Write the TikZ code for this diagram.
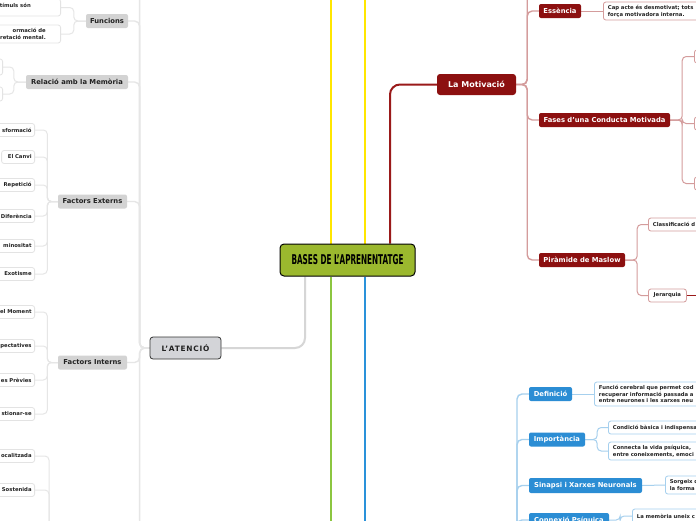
\documentclass[tikz,border=0pt]{standalone}
\usepackage{fontspec}
\setmainfont{DejaVu Sans}
\newfontfamily\spacedfont{DejaVu Sans}[LetterSpace=10]
\usetikzlibrary{backgrounds}
\definecolor{cfill}{HTML}{9BB82E}
\definecolor{rfill}{HTML}{8C1010}
\definecolor{bfill}{HTML}{2B8DD4}
\definecolor{gfill}{HTML}{D3D3D3}
\definecolor{afill}{HTML}{D3D4D8}
\definecolor{yelc}{HTML}{FFE600}
\definecolor{grnc}{HTML}{8CC640}
\definecolor{bluc}{HTML}{2A92DA}
\definecolor{redc}{HTML}{9A1A1A}
\definecolor{graymc}{HTML}{D6D6D6}
\definecolor{gbusc}{HTML}{E6E6E6}
\definecolor{rbusc}{HTML}{D49C9C}
\definecolor{bbusc}{HTML}{A6D0EE}
\definecolor{gleafc}{HTML}{E3E3E3}
\definecolor{txt}{HTML}{222222}
\begin{document}
\begin{tikzpicture}[x=1pt,y=-1pt,
  central/.style={draw=black, line width=1pt, fill=cfill, rounded corners=4pt, minimum width=135pt, minimum height=32pt, inner sep=0pt},
  motnode/.style={rounded corners=3pt, fill=rfill, text=white, font=\bfseries\fontsize{8}{9}\selectfont, minimum width=79pt, minimum height=21pt, inner sep=0pt},
  atnode/.style={draw=black!80, line width=0.8pt, fill=afill, rounded corners=3pt, minimum width=71pt, minimum height=22pt, inner sep=0pt, font=\fontsize{7.4}{8}\selectfont, text=txt},
  lvl2/.style={rounded corners=2pt, inner sep=0pt, font=\bfseries\fontsize{6.8}{8}\selectfont, minimum height=14pt},
  gnode/.style={lvl2, fill=gfill, text=txt},
  rnode/.style={lvl2, fill=rfill, text=white},
  bnode/.style={lvl2, fill=bfill, text=white},
  leaf/.style={rounded corners=2.5pt, fill=white, inner xsep=4.5pt, inner ysep=0pt, font=\bfseries\fontsize{5.3}{6.9}\selectfont, text=txt, line width=0.8pt},
  gleaf/.style={leaf, draw=gleafc, align=right, inner xsep=3pt, anchor=east, minimum height=13pt},
  rleaf/.style={leaf, draw=rbusc, align=left, anchor=west, minimum height=13pt},
  bleaf/.style={leaf, draw=bbusc, align=left, anchor=west, minimum height=13pt},
  leaftext/.style={inner sep=0pt, font=\bfseries\fontsize{5.3}{7.5}\selectfont, text=txt},
  yel/.style={draw=yelc, line width=2pt},
  grn/.style={draw=grnc, line width=2pt},
  blu/.style={draw=bluc, line width=2pt},
  redm/.style={draw=redc, line width=2pt, rounded corners=10pt},
  graym/.style={draw=graymc, line width=2pt, rounded corners=10pt},
  gbus/.style={draw=gbusc, line width=1.4pt, rounded corners=5pt},
  gleafline/.style={draw=gbusc, line width=1pt, rounded corners=4pt},
  rbus/.style={draw=rbusc, line width=1.4pt, rounded corners=5pt},
  rleafline/.style={draw=rbusc, line width=1pt, rounded corners=4pt},
  jerline/.style={draw=redc, line width=1.6pt},
  bbus/.style={draw=bbusc, line width=1.4pt, rounded corners=5pt},
  bleafline/.style={draw=bbusc, line width=1pt, rounded corners=4pt}
]
\useasboundingbox (0,0) rectangle (696,520);
\clip (0,0) rectangle (696,520);

% helper coordinates
\coordinate (y1) at (331,-10);
\coordinate (y2) at (365,-10);
\coordinate (g1) at (331,530);
\coordinate (b1) at (365,530);
\coordinate (r1) at (390,0);
\coordinate (a1) at (305,0);
\coordinate (gtop) at (128,-20);
\coordinate (gbot) at (128,545);
\coordinate (fbot) at (59,545);
\coordinate (mtop) at (539,-20);
\coordinate (jerout) at (712,295.5);
\coordinate (memb) at (517,545);

% main nodes
\node[central] (central) at (347.5,260) {\resizebox{112pt}{10pt}{\bfseries BASES DE L’APRENENTATGE}};
\node[motnode] (motiv) at (476.5,84.5) {La Motivació};
\node[atnode] (atencio) at (185.5,348) {{\spacedfont\bfseries L’ATENCIÓ}};

% gray level 2
\node[gnode, minimum width=42pt] (funcions) at (107,21) {Funcions};
\node[gnode, minimum width=102pt] (relacio) at (77,82) {Relació amb la Memòria};
\node[gnode, minimum width=69pt] (fext) at (92.5,201.5) {Factors Externs};
\node[gnode, minimum width=69pt] (fint) at (92.5,362.5) {Factors Interns};

% red level 2
\node[rnode, minimum width=42pt] (essencia) at (560,11) {Essència};
\node[rnode, minimum width=131pt] (fases) at (604.5,120) {Fases d’una Conducta Motivada};
\node[rnode, minimum width=86pt] (piramide) at (582,260) {Piràmide de Maslow};

% blue level 2
\node[bnode, minimum width=43pt] (definicio) at (550.5,394) {Definició};
\node[bnode, minimum width=56pt] (importancia) at (557,439.5) {Importància};
\node[bnode, minimum width=113pt, minimum height=15pt] (sinapsi) at (585.5,485.5) {Sinapsi i Xarxes Neuronals};
\node[bnode, minimum width=80pt] (connexio) at (569,520) {Connexió Psíquica};

% gray leaves
\node[gleaf, minimum height=17pt, minimum width=90pt] (fu1) at (61,7.5) {};
\node[leaftext, anchor=east] (fu1t) at (31,5) {tímuls són};
\node[gleaf, minimum height=18pt, minimum width=90pt] (fu2) at (61,34) {};
\node[leaftext, anchor=east, align=right] (fu2t) at (46,34) {ormació de\\retació mental.};
\node[gleaf, minimum height=16pt, minimum width=40pt] (re1) at (3,67) {};
\node[gleaf, minimum height=14pt, minimum width=40pt] (re2) at (3,94) {};

\node[gleaf, text width=60pt] (fe1) at (35,130) {sformació};
\node[gleaf, text width=27pt] (fe2) at (35,157) {El Canvi};
\node[gleaf, text width=60pt] (fe3) at (35,185) {Repetició};
\node[gleaf, text width=60pt] (fe4) at (35,216) {Diferència};
\node[gleaf, text width=60pt] (fe5) at (35,246) {minositat};
\node[gleaf, text width=60pt] (fe6) at (35,274) {Exotisme};

\node[gleaf, text width=60pt] (fi1) at (35,312) {el Moment};
\node[gleaf, text width=60pt] (fi2) at (35,346) {pectatives};
\node[gleaf, text width=60pt] (fi3) at (35,380) {es Prèvies};
\node[gleaf, text width=60pt] (fi4) at (35,414) {stionar-se};

\node[gleaf, text width=60pt] (fb1) at (35,456) {ocalitzada};
\node[gleaf, text width=60pt] (fb2) at (35,490) {Sostenida};

% red leaves
\node[rleaf, text width=140pt, minimum height=18pt] (ess1) at (603,11) {Cap acte és desmotivat; tots\\força motivadora interna.};
\node[rleaf, minimum width=40pt] (fa1) at (694,56.5) {};
\node[rleaf, minimum width=40pt] (fa2) at (694,123.5) {};
\node[rleaf, minimum width=40pt] (fa3) at (694,183.5) {};
\node[rleaf, text width=80pt] (cla) at (648,224.5) {Classificació d};
\node[rleaf, text width=29pt, align=center] (jer) at (648,295.5) {Jerarquia};

% blue leaves
\node[bleaf, text width=130pt, minimum height=24pt] (def1) at (594,394) {Funció cerebral que permet cod\\recuperar informació passada a\\entre neurones i les xarxes neu};
\node[bleaf, text width=100pt] (imp1) at (608,427.5) {Condició bàsica i indispensa};
\node[bleaf, text width=100pt, minimum height=18pt] (imp2) at (608,451) {Connecta la vida psíquica,\\entre coneixements, emoci};
\node[bleaf, text width=60pt, minimum height=18pt] (sin1) at (665,485) {Sorgeix d\\la forma};
\node[bleaf, text width=80pt, minimum height=14pt] (con1) at (632,516) {La memòria uneix c};

\begin{pgfonlayer}{background}
\fill[white] (0,0) rectangle (696,520);
% main branches
\draw[yel] (central.north -| y1) -- (y1);
\draw[yel] (central.north -| y2) -- (y2);
\draw[grn] (central.south -| g1) -- (g1);
\draw[blu] (central.south -| b1) -- (b1);
\draw[redm] (central.north -| r1) |- (motiv.west);
\draw[graym] (central.south -| a1) |- (atencio.east);

% gray bus
\foreach \n in {funcions,relacio,fext,fint}
  \draw[gbus] (atencio.west) -- ++(-10,0) |- (\n.east);
\draw[gbus] (atencio.west) -- ++(-10,0) |- (gtop);
\draw[gbus] (atencio.west) -- ++(-10,0) |- (gbot);

\foreach \n in {fu1,fu2}
  \draw[gleafline] (funcions.west) -- ++(-12,0) |- (\n.east);
\foreach \n in {re1,re2}
  \draw[gleafline] (relacio.west) -- ++(-12,0) |- (\n.east);
\foreach \n in {fe1,fe2,fe3,fe4,fe5,fe6}
  \draw[gleafline] (fext.west) -- ++(-10.5,0) |- (\n.east);
\foreach \n in {fi1,fi2,fi3,fi4}
  \draw[gleafline] (fint.west) -- ++(-10.5,0) |- (\n.east);
\foreach \n in {fb1,fb2}
  \draw[gleafline] (fbot) -- ++(-10,0) |- (\n.east);

% red bus
\foreach \n in {essencia,fases,piramide}
  \draw[rbus] (motiv.east) -- ++(11,0) |- (\n.west);
\draw[rbus] (motiv.east) -- ++(11,0) |- (mtop);
\draw[rleafline] (essencia.east) -- (ess1.west);
\foreach \n in {fa1,fa2,fa3}
  \draw[rleafline] (fases.east) -- ++(12,0) |- (\n.west);
\foreach \n in {cla,jer}
  \draw[rleafline] (piramide.east) -- ++(12,0) |- (\n.west);
\draw[jerline] (jer.east) -- (jerout);

% blue bus
\foreach \n in {definicio,importancia,sinapsi,connexio}
  \draw[bbus] (memb) |- (\n.west);
\draw[bleafline] (definicio.east) -- (def1.west);
\foreach \n in {imp1,imp2}
  \draw[bleafline] (importancia.east) -- ++(12,0) |- (\n.west);
\draw[bleafline] (sinapsi.east) -- (sin1.west);
\draw[bleafline] (connexio.east) -- ++(11,0) |- (con1.west);
\end{pgfonlayer}
\end{tikzpicture}
\end{document}
